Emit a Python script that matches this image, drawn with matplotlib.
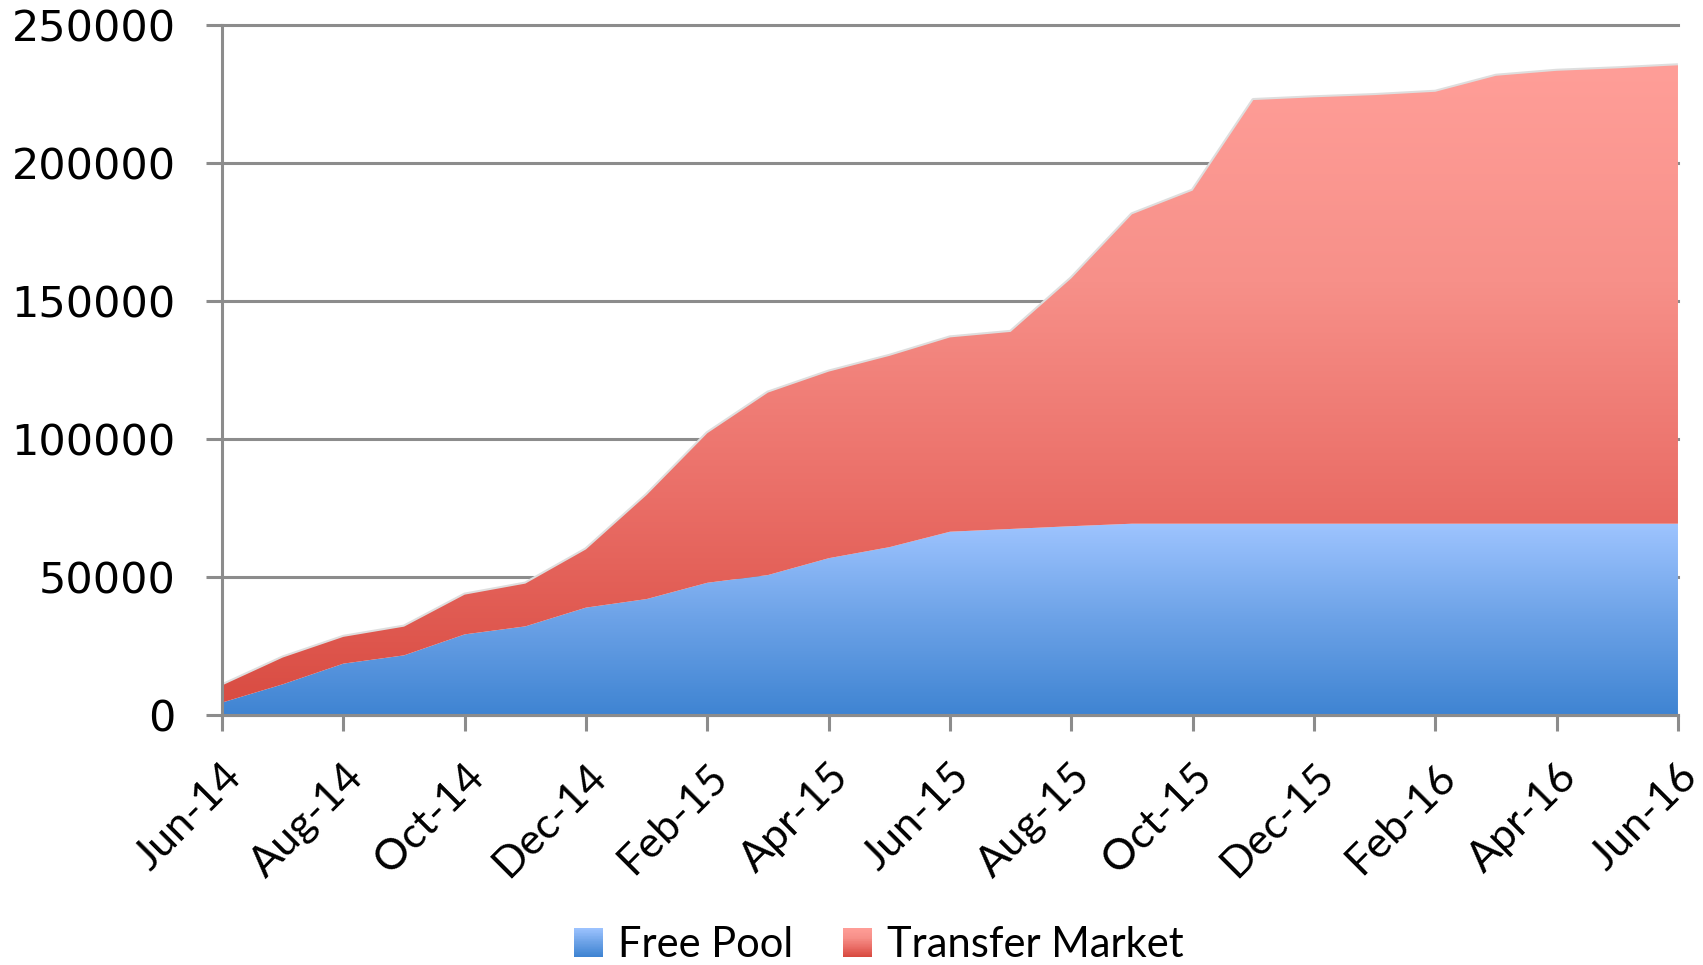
import numpy as np
import matplotlib
matplotlib.use("Agg")
import matplotlib.pyplot as plt
import matplotlib.transforms as mtransforms
from matplotlib.colors import LinearSegmentedColormap
from matplotlib.legend_handler import HandlerBase
from matplotlib.patches import Patch, Rectangle

# monthly data, Jun-14 .. Jun-16
months = [
    "Jun-14", "Jul-14", "Aug-14", "Sep-14", "Oct-14", "Nov-14", "Dec-14",
    "Jan-15", "Feb-15", "Mar-15", "Apr-15", "May-15", "Jun-15", "Jul-15",
    "Aug-15", "Sep-15", "Oct-15", "Nov-15", "Dec-15", "Jan-16", "Feb-16",
    "Mar-16", "Apr-16", "May-16", "Jun-16",
]
free_pool = [
    4500, 11100, 18600, 21600, 29200, 32100, 38900, 42000, 47900, 50700,
    56800, 60800, 66400, 67400, 68400, 69300, 69300, 69300, 69300, 69300,
    69300, 69300, 69300, 69300, 69300,
]
transfer_market = [
    6200, 9700, 9700, 10400, 14400, 15500, 21100, 37700, 54200, 66100,
    67600, 69300, 70400, 71400, 89800, 112100, 120700, 153500, 154500, 155300,
    156500, 162300, 164100, 165000, 166100,
]
y_ticks = [0, 50000, 100000, 150000, 200000, 250000]

blue_colors = ["#3F84D2", "#6CA2E7", "#9EC4FF"]
red_colors = ["#D84A40", "#EA6E67", "#F79089", "#FF9E98"]
GRID = "#8c8c8c"


def gradient_fill(ax, x, y_low, y_high, colors, vmax):
    """Fill between two curves with a vertical gradient running 0..vmax."""
    poly = ax.fill_between(x, y_low, y_high, facecolor="none", edgecolor="none")
    cmap = LinearSegmentedColormap.from_list("grad", colors)
    grad = np.linspace(0, 1, 256).reshape(-1, 1)
    im = ax.imshow(grad, cmap=cmap, aspect="auto", origin="lower",
                   extent=[x[0], x[-1], 0, vmax], zorder=2,
                   interpolation="bilinear")
    im.set_clip_path(poly.get_paths()[0], transform=ax.transData)
    return im


class GradientHandler(HandlerBase):
    def __init__(self, colors, n=40):
        super().__init__()
        self.cmap = LinearSegmentedColormap.from_list("h", colors)
        self.n = n

    def create_artists(self, legend, orig_handle, xdescent, ydescent,
                       width, height, fontsize, trans):
        side = height
        x0 = -xdescent + (width - side) / 2
        arts = []
        for i in range(self.n):
            r = Rectangle((x0, -ydescent + i * side / self.n), side,
                          side / self.n * 1.05,
                          facecolor=self.cmap(i / (self.n - 1)),
                          edgecolor="none", transform=trans)
            arts.append(r)
        return arts


x = np.arange(len(months))
free = np.array(free_pool, dtype=float)
total = free + np.array(transfer_market, dtype=float)

fig = plt.figure(figsize=(17.03, 9.65), dpi=100)
ax = fig.add_axes([0.1304, 0.2591, 0.8549, 0.7150])

# faint shadow along the top edge
ax.plot(x, total, color="#dedede", lw=3, zorder=1.9, solid_capstyle="butt")

gradient_fill(ax, x, 0, free, blue_colors, free.max())
gradient_fill(ax, x, free, total, red_colors, total.max())

ax.set_xlim(0, len(months) - 1)
ax.set_ylim(0, 250000)
ax.set_axisbelow(True)
ax.yaxis.grid(True, color=GRID, lw=2.2)
for gl in ax.get_ygridlines():
    gl.set_clip_on(False)

for side in ["top", "right"]:
    ax.spines[side].set_visible(False)
for side in ["left", "bottom"]:
    ax.spines[side].set_color(GRID)
    ax.spines[side].set_linewidth(2.2)

ax.set_yticks(y_ticks)
ax.set_yticklabels([str(v) for v in y_ticks], fontsize=31,
                   family="DejaVu Sans")
ax.set_xticks(x[::2])
ax.set_xticklabels(months[::2], fontsize=31, family="Lato",
                   rotation=45, ha="right", va="top",
                   rotation_mode="anchor")
offset = mtransforms.ScaledTranslation(4 / 100, 0, fig.dpi_scale_trans)
for lbl in ax.get_xticklabels():
    lbl.set_transform(lbl.get_transform() + offset)

ax.tick_params(axis="both", direction="out", length=11.5, width=2.2,
               color=GRID)
ax.tick_params(axis="y", pad=22)
ax.tick_params(axis="x", pad=19)

h_blue = Patch(label="Free Pool")
h_red = Patch(label="Transfer Market")
fig.legend(handles=[h_blue, h_red],
           handler_map={h_blue: GradientHandler(blue_colors),
                        h_red: GradientHandler(red_colors)},
           loc="center", bbox_to_anchor=(0.516, 0.021), ncol=2,
           frameon=False, prop={"family": "Lato", "size": 30},
           handlelength=0.7, handleheight=0.7, handletextpad=0.35,
           columnspacing=1.2, borderpad=0)

fig.savefig("out.png", dpi=100)
